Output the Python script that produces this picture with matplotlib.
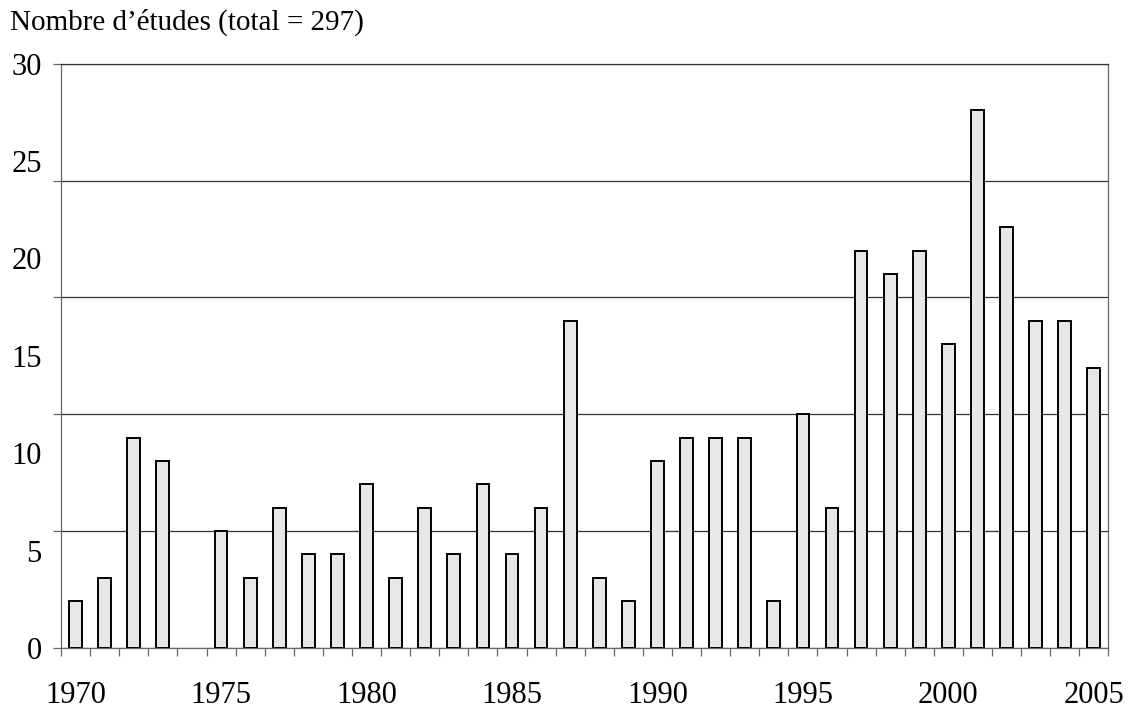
import numpy as np
import matplotlib.pyplot as plt

# =============================================================================
# DATA
# =============================================================================

YEARS = list(range(1970, 2006))
COUNTS = [2, 3, 9, 8, 0, 5, 3, 6, 4, 4, 7,
          3, 6, 4, 7, 4, 6, 14, 3, 2, 8, 9, 9, 9,
          2, 10, 6, 17, 16, 17, 13, 23, 18, 14, 14, 12]

X_LABEL_YEARS = [1970, 1975, 1980, 1985, 1990, 1995, 2000, 2005]
Y_LABELS = ["0", "5", "10", "15", "20", "25", "30"]
GRID_VALUES = [0, 5, 10, 15, 20, 25]
TITLE = "Nombre d\u2019\u00e9tudes (total = 297)"

# =============================================================================
# PLOT
# =============================================================================

plt.rcParams["font.family"] = ["Liberation Serif", "DejaVu Serif"]

fig = plt.figure(figsize=(11.31, 7.24), dpi=100)
ax = fig.add_axes([0.054, 0.105, 0.926, 0.807])

# years with no study get no bar at all
bar_years = [y for y, c in zip(YEARS, COUNTS) if c > 0]
bar_counts = [c for c in COUNTS if c > 0]
ax.bar(bar_years, bar_counts, width=0.44, color="#e6e7e8",
       edgecolor="black", linewidth=1.4, zorder=3)

ax.set_xlim(YEARS[0] - 0.5, YEARS[-1] + 0.5)
ax.set_ylim(0, max(GRID_VALUES))

# gridlines + outward ticks at every 5 studies
ax.yaxis.remove_overlapping_locs = False
ax.set_yticks(GRID_VALUES)
ax.set_yticklabels([])
ax.yaxis.grid(True, color="#333333", linewidth=0.9)
ax.set_axisbelow(True)
ax.tick_params(axis="y", which="major", direction="out", length=6,
               color="#666666", width=0.9)

# y labels spread evenly over the axis height
ax.set_yticks(np.linspace(0, max(GRID_VALUES), len(Y_LABELS)), minor=True)
ax.set_yticklabels(Y_LABELS, minor=True)
ax.tick_params(axis="y", which="minor", length=0, pad=14, labelsize=22)

# x: labels every 5 years, small ticks between the bars
ax.xaxis.remove_overlapping_locs = False
ax.set_xticks(X_LABEL_YEARS)
ax.set_xticklabels([str(y) for y in X_LABEL_YEARS])
ax.tick_params(axis="x", which="major", length=0, pad=24, labelsize=22)
ax.set_xticks(np.array(YEARS + [YEARS[-1] + 1]) - 0.5, minor=True)
ax.tick_params(axis="x", which="minor", direction="out", length=6,
               color="#666666", width=0.9)

for side in ["left", "right", "bottom", "top"]:
    ax.spines[side].set_color("#666666")
    ax.spines[side].set_linewidth(0.9)
ax.spines["top"].set_color("#333333")

fig.text(0.009, 0.969, TITLE, fontsize=21, ha="left", va="center")

fig.savefig("out.png", dpi=100)
